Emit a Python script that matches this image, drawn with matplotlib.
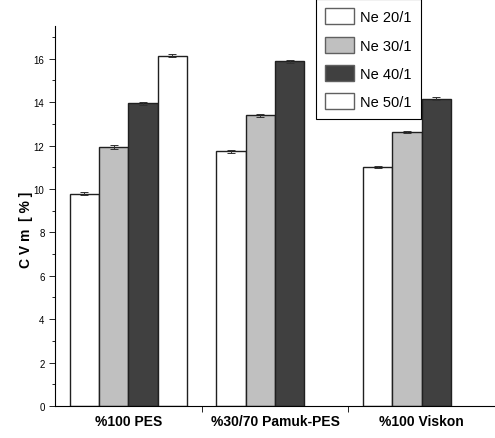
import matplotlib.pyplot as plt
import numpy as np
from matplotlib.ticker import MultipleLocator

plt.rcParams['font.family'] = ['Liberation Sans Narrow', 'Liberation Sans', 'DejaVu Sans']

groups = ["%100 PES", "%30/70 Pamuk-PES", "%100 Viskon"]
series = ["Ne 20/1", "Ne 30/1", "Ne 40/1", "Ne 50/1"]
values = [
    [9.78, 11.74, 11.02],
    [11.93, 13.39, 12.63],
    [13.95, 15.89, 14.16],
    [16.15, np.nan, np.nan],
]
errors = [
    [0.06, 0.06, 0.06],
    [0.1, 0.07, 0.05],
    [0.08, 0.07, 0.06],
    [0.08, 0, 0],
]
colors = ["white", "#c0c0c0", "#404040", "white"]

fig = plt.figure(figsize=(4.95, 4.39), dpi=100)
ax = fig.add_axes([0.111, 0.073, 0.889, 0.865])

gx = np.arange(len(groups)) * 5
for j, name in enumerate(series):
    v = np.array(values[j])
    ok = ~np.isnan(v)
    ax.bar(gx[ok] + j, v[ok], width=1.0, color=colors[j], edgecolor="#202020",
           linewidth=1.0, label=name, zorder=2)
    ax.errorbar(gx[ok] + j, v[ok], yerr=np.array(errors[j])[ok], fmt="none",
                ecolor="#303030", elinewidth=0.7, capsize=3, capthick=0.7, zorder=3)

ax.set_xlim(-1, 14)
ax.set_ylim(0, 17.5)
ax.set_xticks(gx + 1.5)
ax.set_xticklabels(groups, fontsize=10, fontweight="bold")
ax.set_xticks(gx[:-1] + 4, minor=True)
ax.tick_params(axis="x", which="major", length=0, pad=6)
ax.tick_params(axis="x", which="minor", length=4, width=0.6, direction="out")
ax.yaxis.set_major_locator(MultipleLocator(2))
ax.yaxis.set_minor_locator(MultipleLocator(1))
ax.tick_params(axis="y", which="major", length=4, width=0.6, labelsize=7)
ax.tick_params(axis="y", which="minor", length=2, width=0.6)
for s in ["top", "right"]:
    ax.spines[s].set_visible(False)
ax.spines["left"].set_linewidth(0.8)
ax.spines["bottom"].set_linewidth(0.8)
ax.set_ylabel("C V m  [ % ]", fontsize=10, fontweight="bold")
ax.yaxis.set_label_coords(-0.05, 0.466)

leg = fig.legend(loc="upper left", bbox_to_anchor=(0.638, 1.0), fontsize=10.5,
                 fancybox=False, edgecolor="black", framealpha=1,
                 handlelength=2.0, handleheight=1.3, labelspacing=0.85,
                 borderpad=0.65, handletextpad=0.4, borderaxespad=0)
leg.get_frame().set_linewidth(0.8)
for h in leg.legend_handles:
    h.set_edgecolor("#606060")

fig.savefig("out.png", dpi=100)
